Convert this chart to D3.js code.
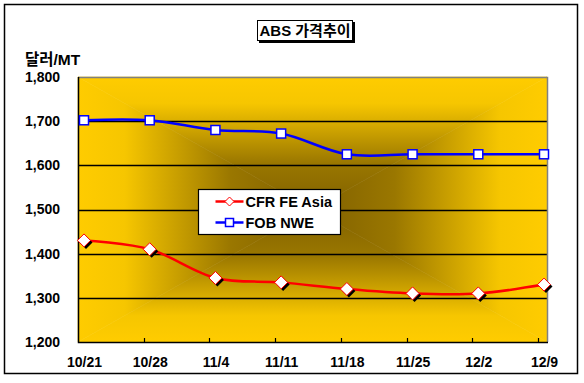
<!DOCTYPE html>
<html>
<head>
<meta charset="utf-8">
<script src="https://cdn.jsdelivr.net/npm/d3@7"></script>
<style>
  body { margin: 0; background: #fff; }
  text { font-family: "Liberation Sans", Arial, "Noto Sans CJK KR", sans-serif; font-weight: bold; }
</style>
</head>
<body>
<div id="chart"></div>
<script>
// data
var dates = ["10/21", "10/28", "11/4", "11/11", "11/18", "11/25", "12/2", "12/9"];
var cfrAsia = [1430, 1410, 1345, 1335, 1320, 1310, 1310, 1330];
var fobNwe = [1702, 1702, 1680, 1672, 1625, 1625, 1625, 1625];
var yTicks = [1200, 1300, 1400, 1500, 1600, 1700, 1800];
var seriesNames = ["CFR FE Asia", "FOB NWE"];

var W = 584, H = 383;
var plot = {left: 78, right: 547, top: 77, bottom: 342};

var svg = d3.select("#chart").append("svg")
  .attr("width", W).attr("height", H);

// outer frame
svg.append("rect").attr("x", 4.5).attr("y", 4.5).attr("width", 573).attr("height", 369)
  .attr("fill", "#fff").attr("stroke", "#000").attr("stroke-width", 1.5);

// scales
var x = d3.scalePoint().domain(dates).range([84, 544]);
var y = d3.scaleLinear().domain([1200, 1800]).range([plot.bottom, plot.top]);

// background: rectangular "from center" gradient built from four triangles
var defs = svg.append("defs");
var cx = (plot.left + plot.right) / 2, cy = (plot.top + plot.bottom) / 2;
var tris = [
  {id: "gT", pts: [[plot.left, plot.top], [plot.right, plot.top]], to: [cx, plot.top]},
  {id: "gB", pts: [[plot.left, plot.bottom], [plot.right, plot.bottom]], to: [cx, plot.bottom]},
  {id: "gL", pts: [[plot.left, plot.top], [plot.left, plot.bottom]], to: [plot.left, cy]},
  {id: "gR", pts: [[plot.right, plot.top], [plot.right, plot.bottom]], to: [plot.right, cy]}
];
tris.forEach(function(t) {
  var g = defs.append("linearGradient").attr("id", t.id)
    .attr("gradientUnits", "userSpaceOnUse")
    .attr("x1", cx).attr("y1", cy).attr("x2", t.to[0]).attr("y2", t.to[1]);
  g.append("stop").attr("offset", 0).attr("stop-color", "#806000");
  g.append("stop").attr("offset", 0.35).attr("stop-color", "#9a7700");
  g.append("stop").attr("offset", 0.8).attr("stop-color", "#f6c600");
  g.append("stop").attr("offset", 1).attr("stop-color", "#ffcc00");
  svg.append("path")
    .attr("d", "M" + t.pts[0] + "L" + t.pts[1] + "L" + [cx, cy] + "Z")
    .attr("fill", "url(#" + t.id + ")")
    .attr("stroke", "url(#" + t.id + ")").attr("stroke-width", 0.6);
});

// grid lines
svg.append("g").selectAll("line")
  .data(yTicks.filter(function(d) { return d > 1200 && d < 1800; }))
  .enter().append("line")
  .attr("x1", plot.left).attr("x2", plot.right)
  .attr("y1", function(d) { return Math.round(y(d)) + 0.5; })
  .attr("y2", function(d) { return Math.round(y(d)) + 0.5; })
  .attr("stroke", "#000").attr("stroke-width", 1.3);

// plot border: grey top/right, black left/bottom
svg.append("path")
  .attr("d", "M" + plot.left + "," + (plot.top + 0.5) + "H" + (plot.right + 0.5) + "V" + plot.bottom)
  .attr("fill", "none").attr("stroke", "#808080").attr("stroke-width", 1.5);
svg.append("path")
  .attr("d", "M" + (plot.left + 0.5) + "," + plot.top + "V" + (plot.bottom + 0.5) + "H" + (plot.right + 1))
  .attr("fill", "none").attr("stroke", "#000").attr("stroke-width", 1.5);

// x tick marks (inside, slightly left of points)
svg.append("g").selectAll("line")
  .data(dates.slice(1))
  .enter().append("line")
  .attr("x1", function(d) { return Math.round(x(d)) - 5.5; })
  .attr("x2", function(d) { return Math.round(x(d)) - 5.5; })
  .attr("y1", plot.bottom - 4).attr("y2", plot.bottom)
  .attr("stroke", "#000").attr("stroke-width", 1.2);

// x labels
svg.append("g").attr("transform", "translate(0," + (plot.bottom + 5) + ")")
  .call(d3.axisBottom(x).tickSize(0).tickPadding(10))
  .call(function(g) { g.select(".domain").remove(); })
  .selectAll("text")
  .attr("font-size", 14).attr("fill", "#000")
  .attr("font-family", "Liberation Sans, Arial, sans-serif");

// y labels
svg.append("g").attr("transform", "translate(" + (plot.left - 18) + ",0)")
  .call(d3.axisLeft(y).tickValues(yTicks).tickFormat(d3.format(",")).tickSize(0).tickPadding(0))
  .call(function(g) { g.select(".domain").remove(); })
  .selectAll("text")
  .attr("font-size", 14).attr("fill", "#000")
  .attr("font-family", "Liberation Sans, Arial, sans-serif");

// unit label
svg.append("text").attr("x", 25).attr("y", 65)
  .attr("font-size", 15.5).text("달러/MT");

// lines
var line = function(vals) {
  return d3.line()
    .x(function(d, i) { return x(dates[i]); })
    .y(function(d) { return y(d); })
    .curve(d3.curveCatmullRom.alpha(0))(vals);
};
svg.append("path").attr("d", line(fobNwe))
  .attr("fill", "none").attr("stroke", "#0000ff").attr("stroke-width", 2.5);
svg.append("path").attr("d", line(cfrAsia))
  .attr("fill", "none").attr("stroke", "#ff0000").attr("stroke-width", 2.5);

// markers
var diamond = function(px, py, r) {
  return "M" + px + "," + (py - r) + "L" + (px + r) + "," + py + "L" + px + "," + (py + r) + "L" + (px - r) + "," + py + "Z";
};
var cfrMarks = svg.append("g");
cfrMarks.selectAll(".shadow").data(cfrAsia).enter().append("path")
  .attr("d", function(d, i) { return diamond(x(dates[i]) + 2, y(d) + 2, 6.5); })
  .attr("fill", "#000");
cfrMarks.selectAll(".mark").data(cfrAsia).enter().append("path")
  .attr("d", function(d, i) { return diamond(x(dates[i]), y(d), 6.5); })
  .attr("fill", "#fff").attr("stroke", "#ff0000").attr("stroke-width", 1);

svg.append("g").selectAll("rect").data(fobNwe).enter().append("rect")
  .attr("x", function(d, i) { return x(dates[i]) - 4.5; })
  .attr("y", function(d) { return y(d) - 4.5; })
  .attr("width", 9).attr("height", 9)
  .attr("fill", "#fff").attr("stroke", "#0000ff").attr("stroke-width", 1.5);

// legend
var legend = svg.append("g").attr("transform", "translate(198.5,189.5)");
legend.append("rect").attr("width", 142).attr("height", 45)
  .attr("fill", "#fff").attr("stroke", "#000").attr("stroke-width", 1.2);
var colors = ["#ff0000", "#0000ff"];
seriesNames.forEach(function(name, i) {
  var ly = 12 + i * 21;
  legend.append("line").attr("x1", 17).attr("x2", 45).attr("y1", ly).attr("y2", ly)
    .attr("stroke", colors[i]).attr("stroke-width", 2.5);
  if (i === 0) {
    legend.append("path").attr("d", diamond(31, ly, 4.5))
      .attr("fill", "#fff").attr("stroke", "#ff0000").attr("stroke-width", 1);
  } else {
    legend.append("rect").attr("x", 27).attr("y", ly - 4).attr("width", 8).attr("height", 8)
      .attr("fill", "#fff").attr("stroke", "#0000ff").attr("stroke-width", 1.5);
  }
  legend.append("text").attr("x", 47).attr("y", ly + 5.5)
    .attr("font-size", 14.5).text(name);
});

// title box with shadow
svg.append("rect").attr("x", 259).attr("y", 22).attr("width", 96).attr("height", 21).attr("fill", "#000");
svg.append("rect").attr("x", 257.5).attr("y", 20.5).attr("width", 95).attr("height", 20)
  .attr("fill", "#fff").attr("stroke", "#000").attr("stroke-width", 1);
svg.append("text").attr("x", 305).attr("y", 36).attr("text-anchor", "middle")
  .attr("font-size", 15).text("ABS 가격추이");
</script>
</body>
</html>
